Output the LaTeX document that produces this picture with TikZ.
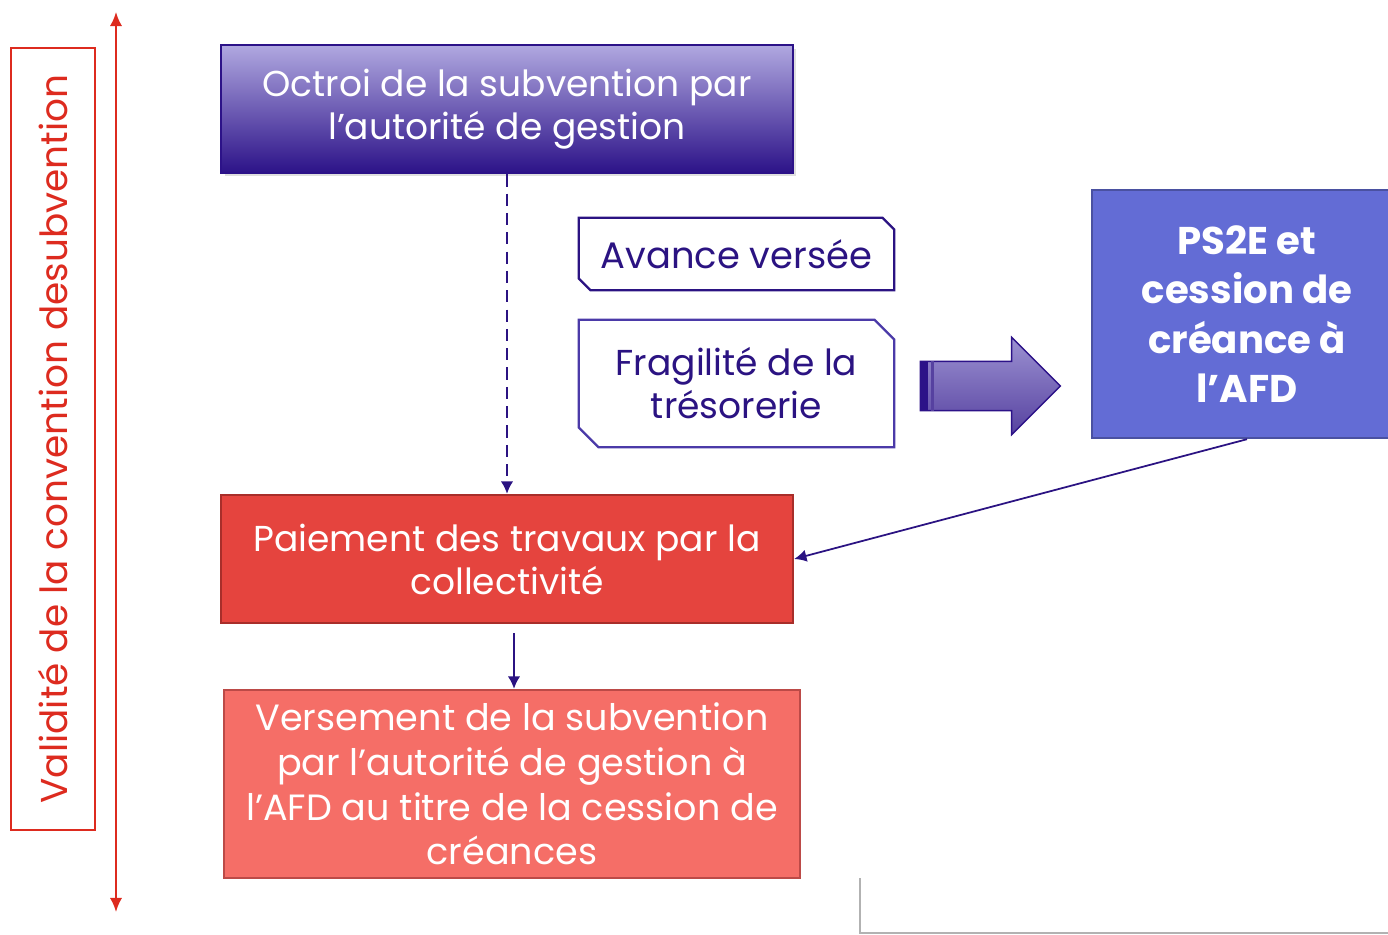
\documentclass[tikz,border=0pt]{standalone}
\usepackage{fontspec}
\setmainfont{Poppins}
\usetikzlibrary{positioning,calc,arrows.meta,shapes.arrows,shadows}

\definecolor{indigo}{HTML}{2B1382}
\definecolor{purptop}{HTML}{B0A8E0}
\definecolor{purpbot}{HTML}{2C1288}
\definecolor{lavline}{HTML}{4B3AA8}
\definecolor{psblue}{HTML}{636CD5}
\definecolor{psline}{HTML}{4A51A1}
\definecolor{payred}{HTML}{E5443E}
\definecolor{payline}{HTML}{A82E2A}
\definecolor{versred}{HTML}{F56E67}
\definecolor{versline}{HTML}{BC4A47}
\definecolor{validred}{HTML}{DD2B1F}

\begin{document}
\begin{tikzpicture}[x=0.02cm,y=-0.02cm,
  font=\fontsize{20.5}{24.5}\selectfont,
  box/.style={draw, line width=1.4pt, align=center, inner sep=0pt, text=white,
    minimum width=11.44cm, minimum height=2.56cm},
  snipbox/.style={align=center, inner sep=0pt, text=indigo,
    minimum width=6.3cm},
  link/.style={indigo, line width=1pt, -{Latex[length=7pt,width=7pt]}}]
  \useasboundingbox (0,0) rectangle (1388,935);
    % time span on the left
    \node[draw=validred, line width=1.6pt, text=validred, rotate=90,
      minimum width=15.64cm, minimum height=1.68cm, inner sep=0pt,
      font=\fontsize{21.3}{24}\selectfont]
      (valid) at (53,439) {Validité de la convention desubvention};
    \coordinate (spantop) at (116,12);
    \coordinate (spanbot) at (116,912);
    \draw[validred, line width=1.2pt, {Latex[length=8pt,width=7pt]}-{Latex[length=8pt,width=7pt]}] (spantop) -- (spanbot);
    %
    \node[box, draw=purpbot, top color=purptop, bottom color=purpbot,
      drop shadow={opacity=0.25, shadow xshift=2pt, shadow yshift=-2pt}]
      (octroi) at (507,109) {Octroi de la subvention par\\l’autorité de gestion};
    \node[box, draw=payline, fill=payred] (paiement) at (507,559)
      {Paiement des travaux par la\\collectivité};
    \node[box, draw=versline, fill=versred, minimum width=11.52cm,
      minimum height=3.76cm, font=\fontsize{20.8}{25.5}\selectfont]
      (versement) at (512,784)
      {Versement de la subvention\\par l'autorité de gestion à\\l'AFD au titre de la cession de\\créances};
    \node[box, draw=psline, fill=psblue, minimum width=6.2cm,
      minimum height=4.96cm, font=\bfseries\fontsize{22}{28}\selectfont]
      (ps2e) at (1247,314) {PS2E et\\cession de\\créance à\\l’AFD};
    %
    \node[snipbox, minimum height=1.44cm, font=\fontsize{21}{24.5}\selectfont]
      (avance) at (736.5,254) {Avance versée};
    \node[snipbox, minimum height=2.54cm] (fragil) at (736.5,383.5)
      {Fragilité de la\\trésorerie};
    \draw[indigo, line width=1.3pt] (avance.north west)
      -- ($(avance.north east)+(-12,0)$) -- ($(avance.north east)+(0,12)$)
      -- (avance.south east) -- ($(avance.south west)+(12,0)$)
      -- ($(avance.south west)+(0,-12)$) -- cycle;
    \draw[lavline, line width=1.3pt] (fragil.north west)
      -- ($(fragil.north east)+(-20,0)$) -- ($(fragil.north east)+(0,20)$)
      -- (fragil.south east) -- ($(fragil.south west)+(20,0)$)
      -- ($(fragil.south west)+(0,-20)$) -- cycle;
    %
    \node[single arrow, draw=purpbot, line width=0.8pt,
      top color=purptop!85!indigo, bottom color=purpbot!80!white,
      minimum width=1.92cm, minimum height=2.8cm, inner xsep=0pt,
      inner ysep=0.48cm, single arrow head extend=0.48cm]
      (bigarrow) at (978,386) {};
    \fill[purpbot] (bigarrow.before tail) rectangle ($(bigarrow.after tail)+(8,0)$);
    \fill[purpbot!80!white] ($(bigarrow.before tail)+(11,0)$) rectangle ($(bigarrow.after tail)+(14,0)$);
    %
    \draw[link, dashed, dash pattern=on 7pt off 4pt] (octroi) -- (paiement);
    \draw[link] (ps2e.south) -- (paiement.east);
    \draw[link] ($(paiement.south)+(7,9)$) -- ($(versement.north)+(2,0)$);
    %
    \draw[black!30, line width=0.8pt] (860,878) -- (860,933) -- (1388,933);
  \end{tikzpicture}
\end{document}
